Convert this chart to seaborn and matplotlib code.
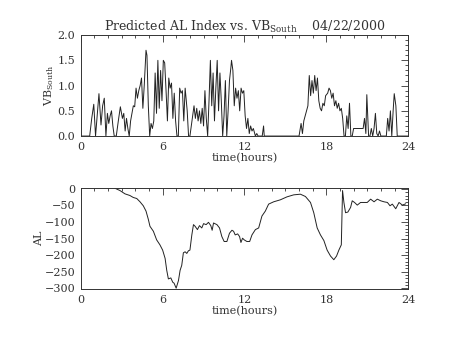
import matplotlib
matplotlib.use("Agg")
import matplotlib.pyplot as plt
import seaborn as sns
import pandas as pd
from matplotlib.ticker import MultipleLocator

# ---- data ----
vb_hours = [0.0, 0.65, 0.8, 0.95, 1.08, 1.2, 1.33, 1.48, 1.6, 1.72, 1.84, 1.95, 2.05, 2.15, 2.25,
            2.35, 2.45, 2.6, 2.75, 2.9, 3.05, 3.15, 3.25, 3.35, 3.45, 3.55, 3.65, 3.75, 3.85, 3.95,
            4.05, 4.15, 4.25, 4.35, 4.45, 4.55, 4.65, 4.78, 4.85, 4.95, 5.05, 5.15, 5.25, 5.35, 5.45,
            5.55, 5.65, 5.75, 5.85, 5.95, 6.05, 6.15, 6.25, 6.35, 6.45, 6.55, 6.65, 6.75, 6.85, 6.95,
            7.05, 7.15, 7.25, 7.35, 7.45, 7.55, 7.65, 7.8, 7.9, 8.0, 8.1, 8.2, 8.3, 8.4, 8.5,
            8.6, 8.7, 8.8, 8.9, 9.0, 9.1, 9.2, 9.3, 9.4, 9.5, 9.6, 9.7, 9.8, 9.9, 10.0,
            10.1, 10.2, 10.3, 10.4, 10.5, 10.6, 10.7, 10.8, 10.9, 11.0, 11.05, 11.15, 11.25, 11.35, 11.45,
            11.55, 11.65, 11.75, 11.85, 11.95, 12.05, 12.15, 12.25, 12.35, 12.45, 12.55, 12.65, 12.8, 12.9, 13.0,
            13.3, 13.4, 13.45, 16.0, 16.15, 16.25, 16.35, 16.5, 16.65, 16.75, 16.85, 16.95, 17.05, 17.15,
            17.25, 17.35, 17.45, 17.55, 17.65, 17.75, 17.85, 17.95, 18.1, 18.2, 18.3, 18.4, 18.5, 18.6,
            18.7, 18.8, 18.9, 19.0, 19.1, 19.2, 19.3, 19.4, 19.5, 19.6, 19.7, 19.8, 19.9, 20.0, 20.1,
            20.7, 20.8, 20.9, 20.97, 21.1, 21.2, 21.3, 21.4, 21.5, 21.6, 21.7, 21.8, 21.9, 22.0, 22.4,
            22.5, 22.6, 22.7, 22.8, 22.9, 22.98, 23.1, 23.2, 24.0]
vb_south = [0.0, 0.0, 0.35, 0.63, 0.0, 0.4, 0.84, 0.22, 0.6, 0.75, 0.0, 0.45, 0.25, 0.4, 0.5,
            0.2, 0.0, 0.0, 0.3, 0.58, 0.35, 0.45, 0.1, 0.35, 0.15, 0.0, 0.3, 0.45, 0.6, 0.58,
            0.95, 0.75, 0.9, 1.0, 1.15, 0.55, 1.0, 1.7, 1.6, 0.6, 0.0, 0.25, 0.15, 0.3, 1.25,
            0.45, 1.5, 0.55, 1.3, 0.7, 1.5, 1.45, 0.9, 0.3, 1.15, 0.95, 1.05, 0.35, 0.85, 0.3,
            0.0, 0.0, 0.95, 0.85, 0.9, 0.3, 0.95, 0.5, 0.0, 0.0, 0.2, 0.4, 0.6, 0.35, 0.55,
            0.3, 0.5, 0.25, 0.55, 0.2, 0.9, 0.35, 0.0, 0.7, 1.5, 0.6, 1.25, 0.3, 0.95, 1.5,
            0.5, 1.25, 0.7, 0.0, 0.4, 1.1, 0.0, 0.5, 1.1, 1.35, 1.5, 1.3, 0.6, 0.95, 0.75,
            0.9, 0.5, 0.95, 0.85, 0.9, 0.4, 0.15, 0.35, 0.05, 0.2, 0.1, 0.15, 0.0, 0.05, 0.0,
            0.0, 0.2, 0.0, 0.0, 0.25, 0.05, 0.3, 0.45, 0.6, 1.2, 0.8, 1.1, 0.85, 1.2,
            0.9, 1.15, 0.7, 0.55, 0.5, 0.65, 0.6, 0.8, 0.85, 0.95, 0.9, 0.75, 0.85, 0.6,
            0.7, 0.55, 0.65, 0.5, 0.55, 0.35, 0.0, 0.0, 0.4, 0.15, 0.65, 0.0, 0.0, 0.15, 0.15,
            0.15, 0.35, 0.05, 0.82, 0.0, 0.0, 0.15, 0.0, 0.15, 0.45, 0.05, 0.0, 0.1, 0.0, 0.0,
            0.35, 0.1, 0.5, 0.0, 0.5, 0.84, 0.6, 0.0, 0.0]

al_hours = [2.5, 2.87, 3.24, 3.6, 3.85, 4.1, 4.34, 4.58, 4.78, 4.95, 5.07, 5.32, 5.56, 5.8, 6.0,
            6.18, 6.3, 6.42, 6.6, 6.74, 6.84, 6.99, 7.16, 7.28, 7.4, 7.52, 7.65, 7.77, 7.89, 8.0,
            8.14, 8.26, 8.38, 8.55, 8.7, 8.87, 9.0, 9.19, 9.36, 9.53, 9.63, 9.73, 9.98, 10.17, 10.34,
            10.51, 10.71, 10.9, 11.08, 11.2, 11.32, 11.5, 11.64, 11.74, 11.86, 11.98, 12.18, 12.38, 12.55, 12.8,
            13.04, 13.28, 13.53, 13.77, 14.14, 14.63, 15.12, 15.61, 16.1, 16.47, 16.84, 17.08, 17.33, 17.57, 17.82,
            18.06, 18.31, 18.55, 18.75, 18.92, 19.1, 19.19, 19.29, 19.41, 19.58, 19.78, 19.9, 20.07, 20.27, 20.51,
            20.76, 21.0, 21.25, 21.5, 21.74, 21.99, 22.23, 22.48, 22.67, 22.84, 23.09, 23.33, 23.58, 23.82]
al_index = [2, -5, -15, -20, -26, -29, -39, -51, -67, -92, -113, -128, -154, -169, -185,
            -210, -246, -272, -269, -282, -285, -300, -277, -246, -231, -193, -190, -195, -187, -185,
            -139, -108, -113, -123, -111, -118, -105, -108, -101, -111, -125, -103, -108, -118, -144,
            -159, -159, -134, -125, -128, -139, -136, -144, -162, -149, -154, -159, -159, -139, -123,
            -118, -82, -67, -46, -39, -33, -24, -18, -16, -23, -41, -72, -118, -139, -156,
            -185, -203, -214, -203, -185, -169, -5, -41, -72, -70, -56, -36, -41, -49, -41,
            -41, -41, -31, -39, -31, -36, -39, -41, -51, -46, -60, -41, -49, -45]

title_text = r"Predicted AL Index vs. VB$_{\rm South}$    04/22/2000"
x_label = "time(hours)"
vb_label = r"VB$_{\rm South}$"
al_label = "AL"
x_ticks = [0, 6, 12, 18, 24]

vb_df = pd.DataFrame({"hours": vb_hours, "vb": vb_south})
al_df = pd.DataFrame({"hours": al_hours, "al": al_index})

sns.set_theme(style="white")
plt.rcParams["font.family"] = ["DejaVu Serif"]
plt.rcParams["mathtext.fontset"] = "dejavuserif"
plt.rcParams["text.color"] = "#333333"
plt.rcParams["axes.labelcolor"] = "#333333"
plt.rcParams["xtick.labelcolor"] = "#333333"
plt.rcParams["ytick.labelcolor"] = "#333333"

fig = plt.figure(figsize=(4.54, 3.41), dpi=100)
ax1 = fig.add_axes([0.178, 0.601, 0.721, 0.296])
ax2 = fig.add_axes([0.178, 0.152, 0.721, 0.296])

line_kw = dict(color="#222222", linewidth=0.7, estimator=None)
sns.lineplot(data=vb_df, x="hours", y="vb", ax=ax1, **line_kw)
sns.lineplot(data=al_df, x="hours", y="al", ax=ax2, **line_kw)

fs = 8
for ax in (ax1, ax2):
    ax.set_facecolor("white")
    ax.set_xlim(0, 24)
    ax.set_xticks(x_ticks)
    ax.xaxis.set_minor_locator(MultipleLocator(1))
    ax.set_xlabel(x_label, fontsize=fs, labelpad=1)
    ax.tick_params(which="both", direction="in", top=True, right=True,
                   color="#333333", width=0.6, labelsize=fs)
    ax.tick_params(which="major", length=5, pad=4)
    ax.tick_params(which="minor", length=2.5)
    for s in ax.spines.values():
        s.set_color("#333333")
        s.set_linewidth(0.7)

ax1.set_ylim(0, 2.0)
ax1.yaxis.set_major_locator(MultipleLocator(0.5))
ax1.yaxis.set_minor_locator(MultipleLocator(0.1))
ax1.set_yticklabels([f"{v:.1f}" for v in ax1.get_yticks()])
ax1.set_ylabel(vb_label, fontsize=fs, labelpad=1)
ax1.set_title(title_text, fontsize=9, pad=3)

ax2.set_ylim(-303, 2)
ax2.yaxis.set_major_locator(MultipleLocator(50))
ax2.yaxis.set_minor_locator(MultipleLocator(10))
ax2.set_ylabel(al_label, fontsize=fs, labelpad=0)

fig.savefig("out.png", dpi=100, facecolor="white")
